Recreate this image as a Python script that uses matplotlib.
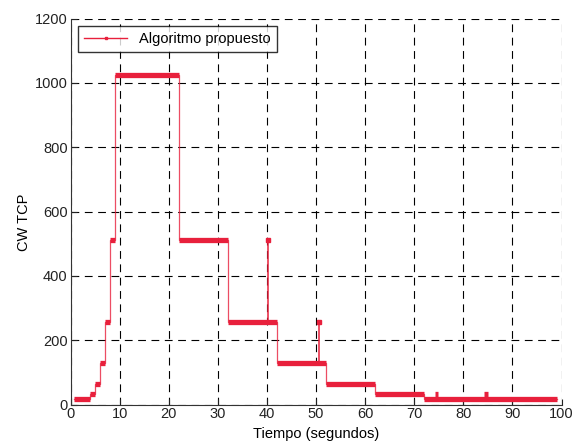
import matplotlib
matplotlib.use("Agg")
from matplotlib import pyplot as plt

plt.rcParams['font.family'] = ['Liberation Sans', 'DejaVu Sans']

# step levels of the congestion window: (start, end, value)
seg_start = [0.8, 4, 5, 6, 7, 8, 9, 22, 32, 42, 52, 62, 72]
seg_end = [4, 5, 6, 7, 8, 9, 22, 32, 42, 52, 62, 72, 99]
seg_value = [16, 32, 64, 128, 256, 512, 1024, 512, 256, 128, 64, 32, 16]

# short spikes / blips
spike_t = [40.2, 50.7]
spike_base = [256, 128]
spike_top = [512, 256]
blip_start = [74.3, 84.3]
blip_end = [74.8, 85.1]
blip_value = [32, 32]

red = '#e8203c'

# thin connecting trace
t_line = []
v_line = []
for s, e, v in zip(seg_start, seg_end, seg_value):
    t_line += [s, e]
    v_line += [v, v]

fig, ax = plt.subplots(figsize=(5.76, 4.45), dpi=100)
fig.subplots_adjust(left=0.1224, right=0.975, bottom=0.091, top=0.958)

ax.plot(t_line, v_line, color=red, lw=0.9, alpha=0.8)
ax.hlines(seg_value, seg_start, seg_end, color=red, lw=3.8)
ax.hlines(blip_value, blip_start, blip_end, color=red, lw=3.8)
ax.vlines(spike_t, spike_base, spike_top, color=red, lw=1.1)
ax.plot(spike_t, spike_top, 's', color=red, ms=2.5)

# legend proxy
ax.plot([], [], color=red, lw=1.0, marker='s', ms=2, label='Algoritmo propuesto')
leg = ax.legend(loc='upper left', fancybox=False, edgecolor='black',
                fontsize=10.5, borderaxespad=0.5, handlelength=3.0,
                borderpad=0.4)
leg.get_frame().set_linewidth(1.0)

ax.set_xlim(0, 100)
ax.set_ylim(0, 1200)
ax.set_xticks(range(0, 101, 10))
ax.set_yticks(range(0, 1201, 200))
ax.grid(True, color='black', linestyle=(0, (7, 5)), lw=0.8)
ax.set_axisbelow(True)
for side in ['top', 'right']:
    ax.spines[side].set_visible(False)
for side in ['left', 'bottom']:
    ax.spines[side].set_color('#333333')
ax.tick_params(direction='in', length=4, labelsize=10.5, colors='#222222', pad=2)
ax.set_xlabel('Tiempo (segundos)', fontsize=10.5, labelpad=4)
ax.set_ylabel('CW TCP', fontsize=10.5)
ax.yaxis.set_label_coords(-0.081, 0.473)

fig.savefig('out.png', dpi=100)
